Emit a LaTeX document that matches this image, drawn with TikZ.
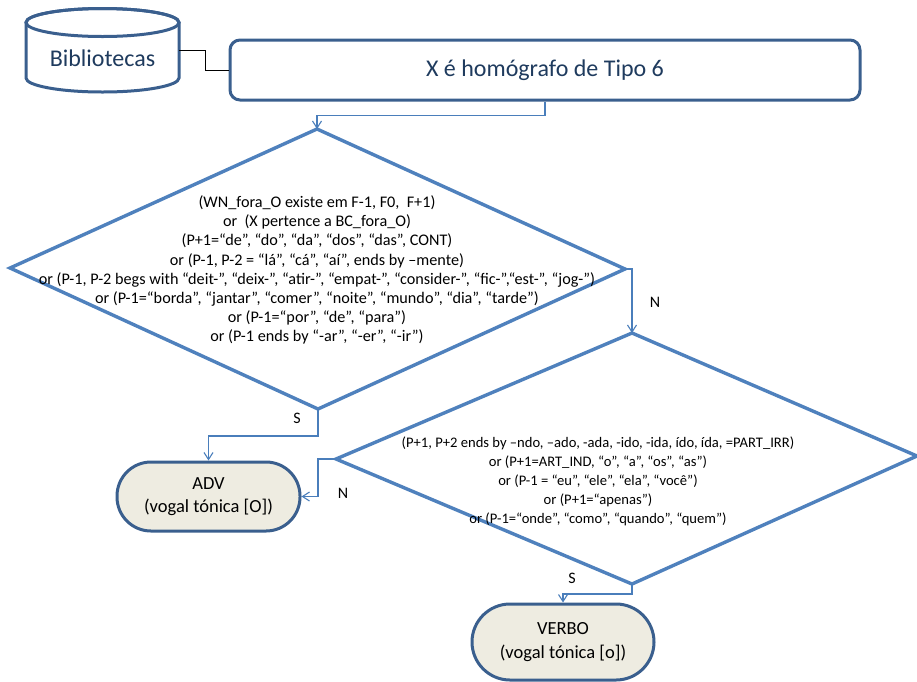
\documentclass[tikz,border=0pt]{standalone}
\usepackage{fontspec}
\setmainfont{Carlito}
\usetikzlibrary{arrows.meta}
\definecolor{diamondblue}{HTML}{4F81BD}
\definecolor{boxblue}{HTML}{3A5F8E}
\definecolor{linkblue}{HTML}{4A7EBB}
\definecolor{termfill}{HTML}{EEECE1}
\definecolor{titleblue}{HTML}{1F3B5E}

\tikzset{
  decision/.style={draw=diamondblue, line width=3.4pt, line join=miter, fill=white},
  stepbox/.style={draw=boxblue, line width=3pt, rounded corners=10pt, fill=white,
    minimum width=630pt, minimum height=60pt, inner sep=0pt,
    font=\fontsize{24}{28}\selectfont, text=titleblue},
  terminal/.style={draw=boxblue, line width=3pt, fill=termfill, align=center,
    inner sep=0pt, font=\fontsize{18.5}{23.5}\selectfont},
  condtext/.style={align=center, inner sep=0pt},
  link/.style={draw=linkblue, line width=1.1pt, -{Straight Barb[length=7pt,width=9pt]}},
  plainlink/.style={draw=black, line width=1pt},
  tag/.style={font=\fontsize{16}{19}\selectfont, inner sep=0pt},
}

\begin{document}
\begin{tikzpicture}[x=1pt, y=-1pt]
\useasboundingbox (0,0) rectangle (917,681);

% database cylinder (y grows downward here, so arc angles are mirrored)
\node[minimum width=153pt, minimum height=84pt, inner sep=0pt] (db) at (102.5,50) {};
\filldraw[draw=boxblue, fill=white, line width=3pt]
  (26,22.5) -- (26,78) arc[start angle=180, end angle=0, x radius=76.5, y radius=14]
  -- (179,22.5) arc[start angle=0, end angle=-180, x radius=76.5, y radius=14] -- cycle;
\draw[draw=boxblue, line width=3pt] (102.5,22.5) ellipse[x radius=76.5, y radius=14];
\node[font=\fontsize{24}{28}\selectfont, text=titleblue, inner sep=0pt] (dbtext) at (102.5,58) {Bibliotecas};

% title process box
\node[stepbox] (title) at (545,70) {X é homógrafo de Tipo 6};

% first decision
\coordinate (d1t) at (317,129);
\coordinate (d1r) at (625,269);
\coordinate (d1b) at (318,409);
\coordinate (d1l) at (10,268);
\draw[decision] (d1t) -- (d1r) -- (d1b) -- (d1l) -- cycle;
\node[condtext, font=\fontsize{16.2}{19.2}\selectfont] (c1) at (317,270) {(WN\_fora\_O existe em F-1, F0,\ \ F+1)\\
or\ \ (X pertence a BC\_fora\_O)\\
(P+1=“de”, “do”, “da”, “dos”, “das”, CONT)\\
or (P-1, P-2 = “lá”, “cá”, “aí”, ends by –mente)\\
or (P-1, P-2 begs with “deit-”, “deix-”, “atir-”, “empat-”, “consider-”, “fic-”,“est-”, “jog-”)\\
or (P-1=“borda”, “jantar”, “comer”, “noite”, “mundo”, “dia”, “tarde”)\\
or (P-1=“por”, “de”, “para”)\\
or (P-1 ends by “-ar”, “-er”, “-ir”)};

% second decision
\coordinate (d2t) at (632,333);
\coordinate (d2r) at (917,456);
\coordinate (d2b) at (632,584);
\coordinate (d2l) at (336,459);
\draw[decision] (d2t) -- (d2r) -- (d2b) -- (d2l) -- cycle;
\node[condtext, font=\fontsize{14.6}{19}\selectfont] (c2) at (598,481) {(P+1, P+2 ends by –ndo, –ado, -ada, -ido, -ida, ído, ída, =PART\_IRR)\\
or (P+1=ART\_IND, “o”, “a”, “os”, “as”)\\
or (P-1 = “eu”, “ele”, “ela”, “você”)\\
or (P+1=“apenas”)\\
or (P-1=“onde”, “como”, “quando”, “quem”)};

% outcomes
\node[terminal, minimum width=183pt, minimum height=69pt, rounded corners=34pt] (adv) at (208.5,496.5)
  {ADV\\(vogal tónica [O])};
\node[terminal, minimum width=182pt, minimum height=76pt, rounded corners=38pt] (verbo) at (563,642)
  {VERBO\\(vogal tónica [o])};

% connectors
\draw[plainlink] (db.east) -- ++(26,0) |- (title.west);
\draw[link] (title.south) -- ++(0,14) -| (d1t);
\draw[link] (d1r) -| (d2t);
\draw[link] (d1b) -- ++(0,27) -| (adv.north);
\draw[link] (d2l) -- ++(-18,0) |- (adv.east);
\draw[link] (d2b) -- ++(0,10) -| (verbo.north);

% branch labels
\node[tag] (n1) at (655,302) {N};
\node[tag] (s1) at (297,418) {S};
\node[tag] (n2) at (343,493) {N};
\node[tag] (s2) at (572,578) {S};
\end{tikzpicture}
\end{document}
